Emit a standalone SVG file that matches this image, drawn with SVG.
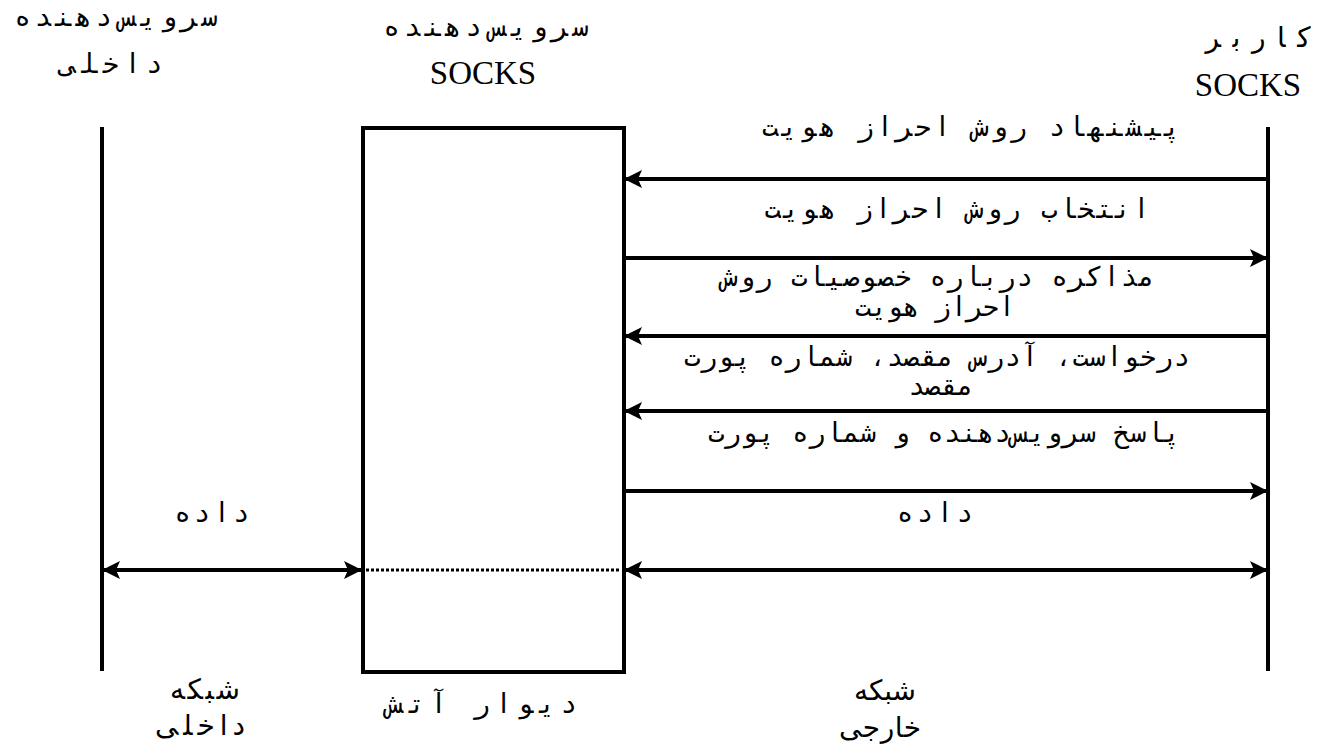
<svg xmlns="http://www.w3.org/2000/svg" width="1320" height="751" viewBox="0 0 1320 751">
  <style>
    .line { stroke: #000; stroke-width: 4; fill: none; }
    .mono { font-family: "DejaVu Sans Mono", "Liberation Mono", monospace; font-size: 27px; fill: #000; text-anchor: middle; }
    .prop { font-family: "Liberation Sans", "DejaVu Sans", sans-serif; font-size: 28px; fill: #000; text-anchor: middle; }
    .serif { font-family: "Liberation Serif", serif; font-size: 33px; fill: #000; text-anchor: middle; }
  </style>
  <defs>
    <marker id="head" viewBox="0 0 18 18" refX="18" refY="9" markerWidth="18" markerHeight="18" markerUnits="userSpaceOnUse" orient="auto-start-reverse">
      <path d="M0,0 L18,9 L0,18 L4,9 Z" fill="#000"/>
    </marker>
  </defs>

  <!-- internal server lifeline -->
  <g id="internal-server">
    <line class="line" x1="102" y1="127" x2="102" y2="671"/>
    <text class="mono" x="116" y="26" direction="rtl" textLength="203" lengthAdjust="spacing">سرویس‌دهنده</text>
    <text class="mono" x="111" y="73" direction="rtl" textLength="103" lengthAdjust="spacing">داخلی</text>
  </g>

  <!-- SOCKS server (firewall box) -->
  <g id="socks-server">
    <rect class="line" x="363" y="128" width="261" height="544"/>
    <text class="mono" x="486" y="36" direction="rtl" textLength="205" lengthAdjust="spacing">سرویس‌دهنده</text>
    <text class="serif" x="483" y="84">SOCKS</text>
  </g>

  <!-- SOCKS client lifeline -->
  <g id="socks-client">
    <line class="line" x1="1268" y1="127" x2="1268" y2="671"/>
    <text class="prop" x="1258" y="47" direction="rtl" textLength="105" lengthAdjust="spacing">کاربر</text>
    <text class="serif" x="1248" y="96">SOCKS</text>
  </g>

  <!-- message connectors -->
  <g id="connectors">
    <line class="line" x1="1268" y1="179" x2="624" y2="179" marker-end="url(#head)"/>
    <line class="line" x1="624" y1="258" x2="1268" y2="258" marker-end="url(#head)"/>
    <line class="line" x1="1268" y1="336" x2="624" y2="336" marker-end="url(#head)"/>
    <line class="line" x1="1268" y1="411" x2="624" y2="411" marker-end="url(#head)"/>
    <line class="line" x1="624" y1="491" x2="1268" y2="491" marker-end="url(#head)"/>
    <line class="line" x1="624" y1="570" x2="1268" y2="570" marker-start="url(#head)" marker-end="url(#head)"/>
    <line class="line" x1="102" y1="570" x2="362" y2="570" marker-start="url(#head)" marker-end="url(#head)"/>
    <line x1="366" y1="570" x2="621" y2="570" stroke="#000" stroke-width="3" stroke-dasharray="3 2"/>
  </g>

  <!-- message labels -->
  <g id="labels">
    <text class="mono" x="971" y="136" direction="rtl" textLength="418" lengthAdjust="spacing">پیشنهاد روش احراز هویت</text>
    <text class="mono" x="957" y="218" direction="rtl" textLength="385" lengthAdjust="spacing">انتخاب روش احراز هویت</text>
    <text class="mono" x="938" y="286" direction="rtl" textLength="433" lengthAdjust="spacing">مذاکره درباره خصوصیات روش</text>
    <text class="mono" x="935" y="316" direction="rtl" textLength="160" lengthAdjust="spacing">احراز هویت</text>
    <text class="mono" x="937" y="366" direction="rtl" textLength="506" lengthAdjust="spacing">درخواست، آدرس مقصد، شماره پورت</text>
    <text class="mono" x="941" y="395" direction="rtl" font-size="24">مقصد</text>
    <text class="mono" x="944" y="442" direction="rtl" textLength="472" lengthAdjust="spacing">پاسخ سرویس‌دهنده و شماره پورت</text>
    <text class="mono" x="935" y="522" direction="rtl" textLength="76" lengthAdjust="spacing">داده</text>
    <text class="mono" x="212" y="522" direction="rtl" textLength="75" lengthAdjust="spacing">داده</text>
  </g>

  <!-- network zone captions -->
  <g id="zones">
    <text class="prop" x="205" y="699" direction="rtl" textLength="70" lengthAdjust="spacing">شبکه</text>
    <text class="prop" x="200" y="735" direction="rtl" textLength="90" lengthAdjust="spacing">داخلی</text>
    <text class="mono" x="482" y="713" direction="rtl" textLength="190" lengthAdjust="spacing">دیوار آتش</text>
    <text class="prop" x="885" y="700" direction="rtl" textLength="62" lengthAdjust="spacing">شبکه</text>
    <text class="prop" x="880" y="737" direction="rtl" textLength="82" lengthAdjust="spacing">خارجی</text>
  </g>
</svg>
